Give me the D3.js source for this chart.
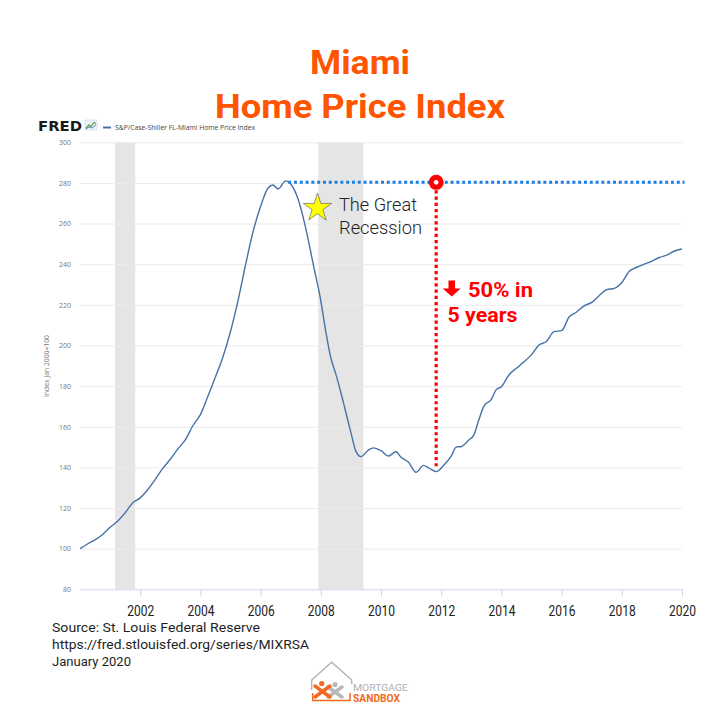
<!DOCTYPE html>
<html><head><meta charset="utf-8">
<script src="https://cdn.jsdelivr.net/npm/d3@7"></script>
<style>body{margin:0;background:#fff}svg{display:block}</style>
</head><body>
<script>
// ---- data ----
const dates = ["2000-01","2000-04","2000-07","2000-10","2001-01","2001-04","2001-07","2001-10",
"2002-01","2002-04","2002-07","2002-10","2003-01","2003-04","2003-07","2003-10",
"2004-01","2004-04","2004-07","2004-10","2005-01","2005-04","2005-07","2005-10",
"2006-01","2006-04","2006-06","2006-08","2006-11","2007-01","2007-04","2007-07","2007-10",
"2008-01","2008-03","2008-05","2008-07","2008-10","2009-01","2009-03","2009-05","2009-08","2009-10",
"2010-01","2010-04","2010-07","2010-09","2010-12","2011-03","2011-06","2011-08","2011-11",
"2012-02","2012-05","2012-07","2012-09","2012-12","2013-02","2013-04","2013-06","2013-09","2013-11",
"2014-01","2014-04","2014-07","2014-10","2015-01","2015-04","2015-07","2015-10",
"2016-01","2016-04","2016-07","2016-10","2017-01","2017-04","2017-07","2017-10",
"2018-01","2018-04","2018-07","2018-10","2019-01","2019-04","2019-07","2019-10","2020-01"];
const values = [100,102.3,104.3,107,110.5,113.5,117.6,122.5,
125,129,134,139.5,144,149,153.5,160.5,
166,175,184.5,194.5,207,222,239.5,256,
268.5,277.5,279,277,281,279.5,272,258,240,
222,207,194,186,172,157,148,145.3,148.5,149.6,
148.2,145.6,147.7,145,142.5,137.6,141,139.8,137.9,
141,145.5,150,150.3,153.5,156,163.3,170,173.5,178.4,
179.7,185.5,188.8,192,195.5,200.2,202,206.8,
207.3,214,216.5,219.5,221.2,224.5,227.5,228.1,
231,236.5,238.5,240,241.5,243.3,244.5,246.5,247.5];
const yTicks = [80,100,120,140,160,180,200,220,240,260,280,300];
const xTickYears = ["2002","2004","2006","2008","2010","2012","2014","2016","2018","2020"];
const recessions = [["2001-03","2001-11"],["2007-12","2009-06"]];
const peakDate = "2006-12", peakValue = 280.3, lineEndDate = "2020-02";
const troughDate = "2011-11", troughLabelValue = 140;
const titleLines = ["Miami","Home Price Index"];
const sourceLines = ["Source: St. Louis Federal Reserve","https://fred.stlouisfed.org/series/MIXRSA","January 2020"];

const parse = d3.timeParse("%Y-%m");
const parseY = d3.timeParse("%Y");
const series = dates.map((d,i)=>({date:parse(d), value:values[i]}));

const svg = d3.select("body").append("svg").attr("width",720).attr("height",720);
svg.append("rect").attr("width",720).attr("height",720).attr("fill","#fff");

const x = d3.scaleTime().domain([parse("2000-01"), parse("2020-01")]).range([80, 682]);
const y = d3.scaleLinear().domain([80,300]).range([589.3,142.3]);

// title
const tl = svg.append("g").attr("font-family","Roboto, sans-serif").attr("font-weight",700)
  .attr("fill","#FF5400").attr("text-anchor","middle");
tl.append("text").attr("x",360).attr("y",74).attr("font-size",34).attr("textLength",100)
  .attr("lengthAdjust","spacingAndGlyphs").text(titleLines[0]);
tl.append("text").attr("x",360).attr("y",118).attr("font-size",33).attr("textLength",290)
  .attr("lengthAdjust","spacingAndGlyphs").text(titleLines[1]);

// FRED header
svg.append("text").attr("x",38).attr("y",131).attr("font-family","DejaVu Sans, sans-serif")
  .attr("font-weight",700).attr("font-size",14).attr("fill","#1b1b1b")
  .attr("textLength",44).attr("lengthAdjust","spacingAndGlyphs").text("FRED");
const icon = svg.append("g").attr("transform","translate(85,120)");
icon.append("rect").attr("width",12).attr("height",10).attr("fill","#eef3f8").attr("stroke","#c9d6e3").attr("stroke-width",0.6);
icon.append("path").attr("d","M1,8 L4,5 L6,6.5 L9,2.5 L11,3.5").attr("fill","none").attr("stroke","#5a9a3c").attr("stroke-width",1.2);
icon.append("path").attr("d","M1,9 L4,7 L7,8 L11,5").attr("fill","none").attr("stroke","#4a7fbf").attr("stroke-width",0.9);
svg.append("line").attr("x1",103).attr("x2",111).attr("y1",127.5).attr("y2",127.5).attr("stroke","#4572A7").attr("stroke-width",2);
svg.append("text").attr("x",115).attr("y",130).attr("font-family","Open Sans, sans-serif")
  .attr("font-size",6.5).attr("fill","#444").attr("textLength",140).attr("lengthAdjust","spacingAndGlyphs")
  .text("S&P/Case-Shiller FL-Miami Home Price Index");

// recession bands
svg.append("g").selectAll("rect").data(recessions).join("rect")
  .attr("x",d=>x(parse(d[0]))).attr("width",d=>x(parse(d[1]))-x(parse(d[0])))
  .attr("y",y(300)).attr("height",y(80)-y(300)).attr("fill","#e5e5e5");

// gridlines
const grid = svg.append("g").attr("transform","translate(80,0)")
  .call(d3.axisLeft(y).tickValues(yTicks.filter(v=>v>80)).tickSize(-602).tickFormat(""));
grid.select(".domain").remove();
grid.selectAll("line").attr("stroke","#ebebeb").attr("stroke-width",1);

// y labels
const ya = svg.append("g").attr("transform","translate(80,0)")
  .call(d3.axisLeft(y).tickValues(yTicks).tickSize(0).tickPadding(9));
ya.select(".domain").remove();
ya.selectAll("text").attr("font-family","Open Sans, sans-serif").attr("font-size",7).attr("fill","#777");

svg.append("text").attr("transform","translate(49,366) rotate(-90)").attr("text-anchor","middle")
  .attr("font-family","Open Sans, sans-serif").attr("font-size",6.8).attr("fill","#777")
  .text("Index Jan 2000=100");

// x axis baseline + ticks
const xa = svg.append("g").attr("transform",`translate(0,${y(80)})`)
  .call(d3.axisBottom(x).tickValues(xTickYears.map(parseY)).tickSize(7).tickFormat(""));
xa.select(".domain").attr("stroke","#ccd6eb").attr("d",`M80,0.5H682`);
xa.selectAll("line").attr("stroke","#ccd6eb");

// big year labels
const xl = svg.append("g").attr("transform","translate(0,600)")
  .call(d3.axisBottom(x).tickValues(xTickYears.map(parseY)).tickSize(0).tickPadding(0).tickFormat(d3.timeFormat("%Y")));
xl.select(".domain").remove();
xl.selectAll("text").attr("font-family","Roboto, sans-serif").attr("font-size",15).attr("fill","#222")
  .attr("dy",null).attr("y",16).attr("textLength",27).attr("lengthAdjust","spacingAndGlyphs");

// line
svg.append("path").datum(series)
  .attr("d", d3.line().x(d=>x(d.date)).y(d=>y(d.value)).curve(d3.curveMonotoneX))
  .attr("fill","none").attr("stroke","#4572A7").attr("stroke-width",1.4);

// annotations
const py = y(peakValue);
svg.append("line").attr("x1",x(parse(peakDate))).attr("x2",x(parse(lineEndDate))).attr("y1",py).attr("y2",py)
  .attr("stroke","#1E7FE0").attr("stroke-width",3).attr("stroke-dasharray","3 2.8");
const tx = x(parse(troughDate));
svg.append("line").attr("x1",tx).attr("x2",tx).attr("y1",py+8).attr("y2",y(troughLabelValue))
  .attr("stroke","#FF0000").attr("stroke-width",3.2).attr("stroke-dasharray","3.2 3");
svg.append("circle").attr("cx",tx).attr("cy",py).attr("r",7.5).attr("fill","#FF0000");
svg.append("circle").attr("cx",tx).attr("cy",py).attr("r",2.3).attr("fill","#fff");

svg.append("path").attr("d",d3.symbol(d3.symbolStar,250)()).attr("transform","translate(317.5,208)")
  .attr("fill","#FFFF00").attr("stroke","#777").attr("stroke-width",0.8);
const gr = svg.append("g").attr("font-family","Roboto, sans-serif").attr("font-weight",300)
  .attr("font-size",18.5).attr("fill","#1e1e1e");
gr.append("text").attr("x",339).attr("y",211).attr("textLength",78).attr("lengthAdjust","spacingAndGlyphs").text("The Great");
gr.append("text").attr("x",339).attr("y",233.5).attr("textLength",83).attr("lengthAdjust","spacingAndGlyphs").text("Recession");

svg.append("path").attr("d","M448.5,280.5 H455 V288.5 H460.7 L451.7,296.5 L442.7,288.5 H448.5 Z").attr("fill","#FF0000");
const rd = svg.append("g").attr("font-family","Roboto, sans-serif").attr("font-weight",700)
  .attr("font-size",20).attr("fill","#FF0000");
rd.append("text").attr("x",468).attr("y",296.7).attr("textLength",65).attr("lengthAdjust","spacingAndGlyphs").text("50% in");
rd.append("text").attr("x",447.5).attr("y",322).attr("textLength",70).attr("lengthAdjust","spacingAndGlyphs").text("5 years");

// source
const src = svg.append("g").attr("font-family","Roboto, sans-serif").attr("font-size",12.5).attr("fill","#1e1e1e");
const srcW = [208,257,79];
src.selectAll("text").data(sourceLines).join("text").attr("x",52).attr("y",(d,i)=>632+i*17)
  .attr("textLength",(d,i)=>srcW[i]).attr("lengthAdjust","spacingAndGlyphs").text(d=>d);

// Mortgage Sandbox logo
const lg = svg.append("g");
lg.append("path").attr("d","M311.7,690 V680 L331.7,662.3 L351.7,680 V684").attr("fill","none").attr("stroke","#b5b5b5").attr("stroke-width",1.5);
lg.append("path").attr("d","M312.7,693 V700.5 H350 V693").attr("fill","none").attr("stroke","#F26A21").attr("stroke-width",1.5);
lg.append("circle").attr("cx",335).attr("cy",684.5).attr("r",2.6).attr("fill","#b8b8b8");
lg.append("path").attr("d","M328,687 L342,697 M342,687 L328,697").attr("stroke","#b8b8b8").attr("stroke-width",3.5).attr("stroke-linecap","round");
lg.append("circle").attr("cx",321.7).attr("cy",683.5).attr("r",2.6).attr("fill","#F26A21");
lg.append("path").attr("d","M315,686 L330,697 M330,686 L315,697").attr("stroke","#F26A21").attr("stroke-width",3.5).attr("stroke-linecap","round");
lg.append("text").attr("x",353).attr("y",691).attr("font-family","Roboto, sans-serif").attr("font-size",9.5)
  .attr("fill","#b0b0b0").attr("textLength",55).attr("lengthAdjust","spacingAndGlyphs").text("MORTGAGE");
lg.append("text").attr("x",353).attr("y",701.5).attr("font-family","Roboto, sans-serif").attr("font-weight",700).attr("font-size",10)
  .attr("fill","#F26A21").attr("textLength",47).attr("lengthAdjust","spacingAndGlyphs").text("SANDBOX");
</script>
</body></html>
